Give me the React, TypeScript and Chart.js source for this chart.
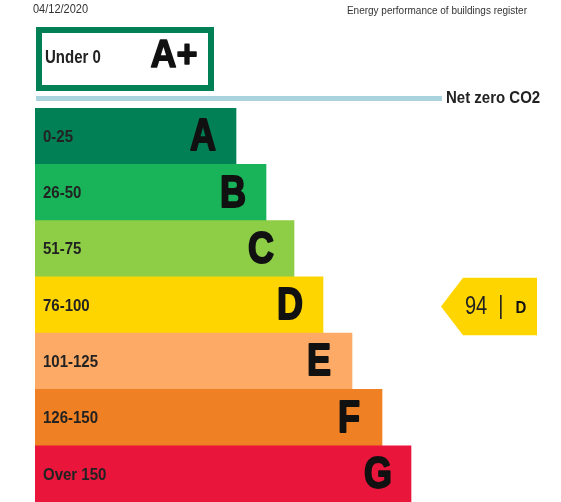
import React, { useEffect, useRef } from "react";
import { Chart, registerables } from "chart.js";

Chart.register(...registerables);

const categories = ["A", "B", "C", "D", "E", "F", "G"];
const rangeLabels = ["0-25", "26-50", "51-75", "76-100", "101-125", "126-150", "Over 150"];
const barLengths = [50.25, 57.75, 64.75, 72, 79.25, 86.75, 94];
const bandColors = ["#008054", "#19b459", "#8dce46", "#ffd500", "#fcaa65", "#ef8023", "#e9153b"];

const aPlusRange = "Under 0";
const aPlusLabel = "A+";
const aPlusLength = 44.75;
const netZeroLabel = "Net zero CO2";
const netZeroLength = 101.75;
const currentScore = 94;
const currentBand = "D";
const dateText = "04/12/2020";
const registerText = "Energy performance of buildings register";

const FONT = "'Liberation Sans', Arial, sans-serif";

function drawText(
  ctx: CanvasRenderingContext2D,
  text: string,
  x: number,
  y: number,
  font: string,
  align: CanvasTextAlign,
  sy: number,
  color: string,
  maxWidth?: number,
  stroke?: number
) {
  ctx.save();
  ctx.translate(x, y);
  ctx.scale(1, sy);
  ctx.font = font;
  ctx.textAlign = align;
  ctx.textBaseline = "middle";
  ctx.fillStyle = color;
  if (maxWidth) ctx.fillText(text, 0, 0, maxWidth);
  else ctx.fillText(text, 0, 0);
  if (stroke) {
    ctx.strokeStyle = color;
    ctx.lineWidth = stroke;
    ctx.lineJoin = "round";
    ctx.strokeText(text, 0, 0);
  }
  ctx.restore();
}

const epcPlugin = {
  id: "epcPlugin",
  afterDatasetsDraw(chart: any) {
    const ctx: CanvasRenderingContext2D = chart.ctx;
    const xs = chart.scales.x;
    const ys = chart.scales.y;
    const x0 = xs.getPixelForValue(0);
    const meta = chart.getDatasetMeta(0);

    // band labels
    meta.data.forEach((bar: any, i: number) => {
      const cy = bar.y;
      drawText(ctx, rangeLabels[i], x0 + 8, cy + 1, `bold 15px ${FONT}`, "left", 1.15, "#222");
      drawText(ctx, categories[i], bar.x - 33, cy + 2, `bold 36px ${FONT}`, "center", 1.22, "#111", undefined, 1.6);
    });

    const firstTop = meta.data[0].y - meta.data[0].height / 2;
    const barH = meta.data[0].height;

    // A+ box
    const boxBottom = firstTop - 17;
    const boxTop = boxBottom - 64;
    const bw = 6;
    const bx1 = x0 + 1;
    const bx2 = xs.getPixelForValue(aPlusLength);
    ctx.save();
    ctx.strokeStyle = bandColors[0];
    ctx.lineWidth = bw;
    ctx.strokeRect(bx1 + bw / 2, boxTop + bw / 2, bx2 - bx1 - bw, boxBottom - boxTop - bw);
    ctx.restore();
    const boxCy = (boxTop + boxBottom) / 2;
    drawText(ctx, aPlusRange, x0 + 10, boxCy - 1, `bold 15px ${FONT}`, "left", 1.2, "#222");
    drawText(ctx, aPlusLabel, bx2 - 40, boxCy - 3, `bold 36px ${FONT}`, "center", 1.1, "#111", undefined, 1.4);

    // net zero line
    const lineY = firstTop - 9.5;
    const lx2 = xs.getPixelForValue(netZeroLength);
    ctx.save();
    ctx.fillStyle = "#aad3de";
    ctx.fillRect(x0 + 1, lineY - 2.5, lx2 - x0 - 1, 5);
    ctx.restore();
    drawText(ctx, netZeroLabel, lx2 + 4, lineY, `bold 15px ${FONT}`, "left", 1.15, "#222");

    // current rating arrow
    const idx = categories.indexOf(currentBand);
    const cy = ys.getPixelForValue(idx) + 1.5;
    const right = chart.width - 24;
    const rectL = right - 74;
    const tip = rectL - 22;
    const half = barH / 2 + 0.5;
    ctx.save();
    ctx.fillStyle = bandColors[idx];
    ctx.beginPath();
    ctx.moveTo(tip, cy);
    ctx.lineTo(rectL, cy - half);
    ctx.lineTo(right, cy - half);
    ctx.lineTo(right, cy + half);
    ctx.lineTo(rectL, cy + half);
    ctx.closePath();
    ctx.fill();
    ctx.restore();
    drawText(ctx, `${currentScore}  |`, rectL + 2, cy, `20px ${FONT}`, "left", 1.3, "#222");
    drawText(ctx, currentBand, rectL + 58, cy + 1.5, `bold 15px ${FONT}`, "center", 1.15, "#111");

    // header
    drawText(ctx, dateText, 33, 10, `11px ${FONT}`, "left", 1.1, "#333");
    drawText(ctx, registerText, 527, 11, `10px ${FONT}`, "right", 1.1, "#333", 186);
  },
};

export default function App() {
  const ref = useRef<HTMLCanvasElement | null>(null);
  useEffect(() => {
    if (!ref.current) return;
    const chart = new Chart(ref.current, {
      type: "bar",
      data: {
        labels: categories,
        datasets: [
          {
            data: barLengths,
            backgroundColor: bandColors,
            borderWidth: 0,
            barPercentage: 1,
            categoryPercentage: 1,
          },
        ],
      },
      options: {
        indexAxis: "y",
        responsive: false,
        animation: false,
        layout: { padding: { left: 35, top: 108, right: 126, bottom: 0 } },
        scales: {
          x: { display: false, min: 0, max: 100 },
          y: { display: false },
        },
        plugins: { legend: { display: false }, tooltip: { enabled: false } },
      },
      plugins: [epcPlugin],
    });
    return () => chart.destroy();
  }, []);
  return (
    <div style={{ position: "absolute", left: 0, top: 0, width: 561, height: 502, background: "#fff" }}>
      <canvas ref={ref} width={561} height={502} />
    </div>
  );
}
